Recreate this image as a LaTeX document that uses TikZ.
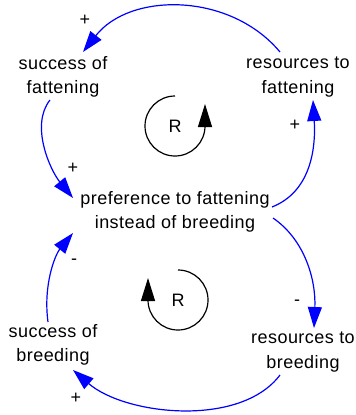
\documentclass[tikz,border=0pt]{standalone}
\usepackage{fontspec}
\setmainfont{Liberation Sans}[LetterSpace=2.5]
\usetikzlibrary{arrows.meta,calc}
\begin{document}
\begin{tikzpicture}[x=1pt,y=-1pt,
  lbl/.style={font=\fontsize{18}{24.5}\selectfont, align=center, inner sep=0pt},
  sgn/.style={font=\fontsize{18}{20}\selectfont, inner sep=0pt},
  link/.style={draw=blue, line width=1.2pt, -{Triangle[length=21pt,width=14pt]}},
  loopar/.style={draw=black, line width=1.2pt, -{Triangle[length=23pt,width=14pt]}}
]
\useasboundingbox (0,0) rectangle (356,415);
% variables
\node[lbl] (sf) at (63,77) {success of\\fattening};
\node[lbl] (rf) at (298,77) {resources to\\fattening};
\node[lbl] (pf) at (175,212) {preference to fattening\\instead of breeding};
\node[lbl] (sb) at (53,345) {success of\\breeding};
\node[lbl] (rb) at (303,352) {resources to\\breeding};
% loop markers
\node[sgn] (r1) at (175,126) {R};
\node[sgn] (r2) at (178,300) {R};
\draw[loopar] ($(r1)+(0,-30)$) arc[start angle=-90, end angle=-360, radius=30] -- ++(0,-22);
\draw[loopar] ($(r2)+(0,-30)$) arc[start angle=-90, end angle=180, radius=30] -- ++(0,-22);
% links
\draw[link] ($(rf)+(-18,-25)$) .. controls +(-50,-60) and +(47,-60) .. ($(sf)+(20,-25)$);
\draw[link] ($(sf)+(-13,23)$) .. controls +(-20,25) and +(-23,-28) .. ($(pf)+(-102,-14)$);
\draw[link] ($(pf)+(97,-5)$) .. controls +(38,-15) and +(3,50) .. ($(rf)+(15,23)$);
\draw[link] ($(pf)+(98,6)$) .. controls +(32,22) and +(2,-48) .. ($(rb)+(11,-24)$);
\draw[link] ($(rb)+(-23,23)$) .. controls +(-40,53) and +(52,45) .. ($(sb)+(20,25)$);
\draw[link] ($(sb)+(-5,-23)$) .. controls +(-5,-37) and +(-18,22) .. ($(pf)+(-102,21)$);
% polarities
\node[sgn] (p1) at (85,20) {+};
\node[sgn] (p2) at (73,168) {+};
\node[sgn] (p3) at (295,125) {+};
\node[sgn] (p4) at (74,262) {-};
\node[sgn] (p5) at (297,303) {-};
\node[sgn] (p6) at (76,398) {+};
\end{tikzpicture}
\end{document}
